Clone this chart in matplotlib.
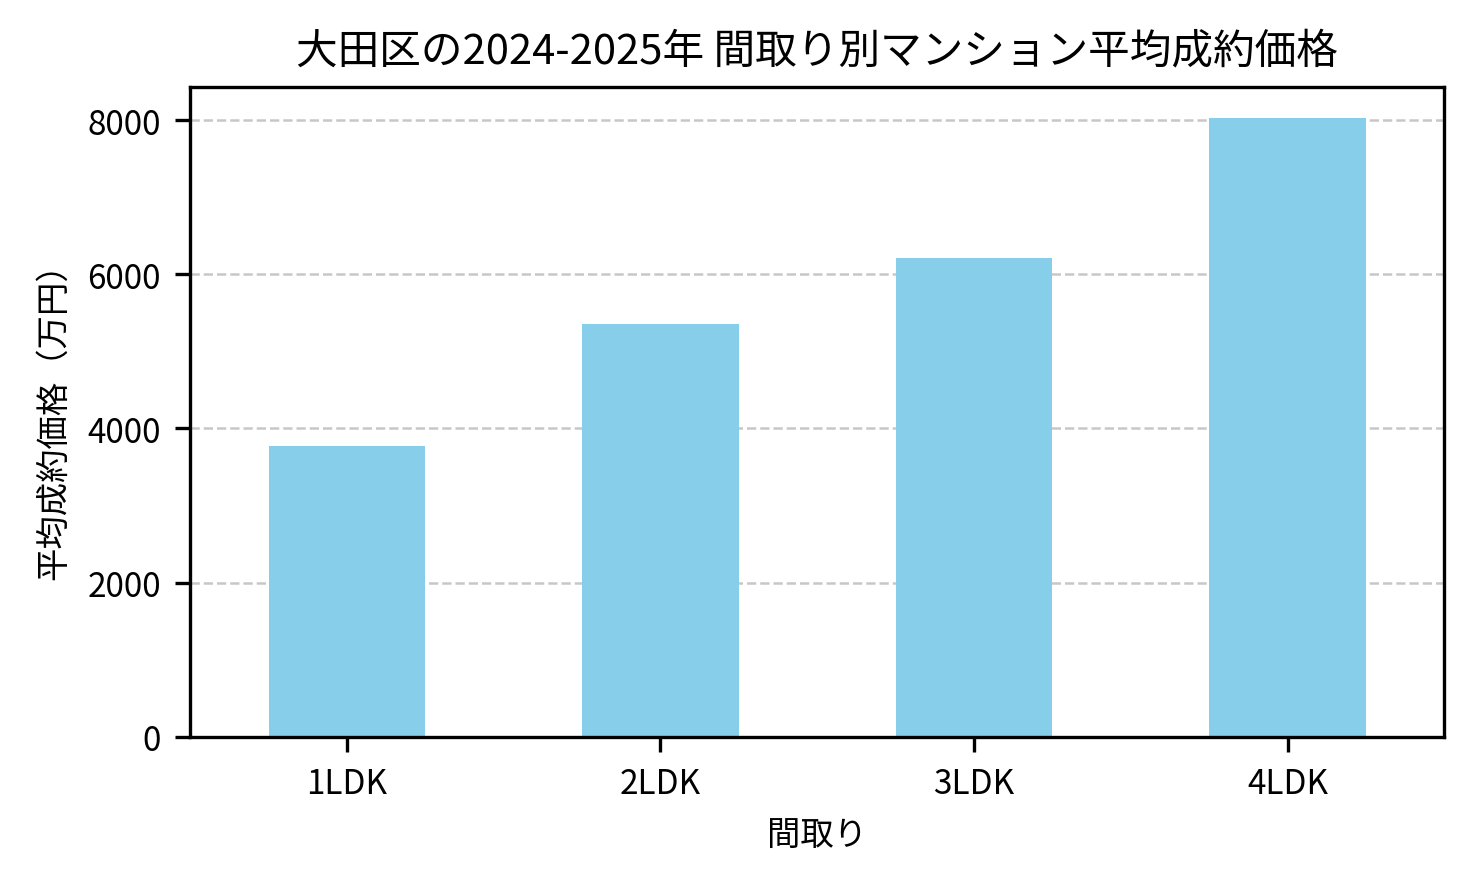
import matplotlib
matplotlib.use("Agg")
import matplotlib.pyplot as plt

plt.rcParams["font.family"] = "Noto Sans CJK JP"

categories = ["1LDK", "2LDK", "3LDK", "4LDK"]
prices = [3767, 5359, 6214, 8026]

fig = plt.figure(figsize=(4.913, 2.913), dpi=300)
ax = fig.add_axes([0.129, 0.156, 0.851, 0.743])
ax.bar(categories, prices, width=0.5, color="skyblue", zorder=2)
ax.set_xlim(-0.5, 3.5)
ax.grid(axis="y", linestyle="--", alpha=0.7, zorder=0, linewidth=0.6)
ax.set_title("大田区の2024-2025年 間取り別マンション平均成約価格", fontsize=10)
ax.set_xlabel("間取り", fontsize=8)
ax.set_ylabel("平均成約価格（万円）", fontsize=8)
ax.tick_params(labelsize=8)
ax.set_yticks([0, 2000, 4000, 6000, 8000])
fig.savefig("out.png", dpi=300)
